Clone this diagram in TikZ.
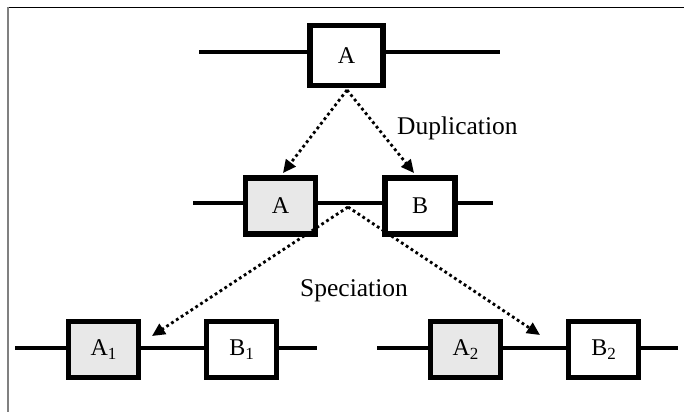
\documentclass[tikz,border=0pt]{standalone}
\usepackage{fontspec}
\setmainfont{Liberation Serif}
\usetikzlibrary{arrows.meta}
\newcommand{\sbs}[1]{\raisebox{-0.35ex}{\fontsize{17}{17}\selectfont #1}}
\begin{document}
\begin{tikzpicture}[x=1pt,y=-1pt,
  gene/.style={draw=black,line width=5.5pt,fill=white,minimum width=70pt,minimum height=56pt,inner sep=0pt,font=\fontsize{24}{26}\selectfont},
  shaded/.style={gene,fill=black!9},
  chrom/.style={line width=4pt},
  evo/.style={line width=2.8pt,dash pattern=on 2.8pt off 3pt,-{Triangle[length=13pt,width=12pt]}},
  lbl/.style={font=\fontsize{25.5}{28}\selectfont,inner sep=0pt}]
\useasboundingbox (0,0) rectangle (684,412);
% frame
\draw[line width=1.4pt] (7,7.5) -- (684,7.5);
\draw[line width=2pt,gray] (7.5,7) -- (7.5,412);
% top
\coordinate (t1) at (199,52);
\coordinate (t2) at (500,52);
\node[gene,minimum width=73pt,minimum height=60pt] (A) at (346.5,55.5) {A};
\draw[chrom] (t1) -- (t1 -| A.west);
\draw[chrom] (t2 -| A.east) -- (t2);
% middle
\coordinate (m1) at (193,203);
\coordinate (m2) at (493,203);
\node[shaded] (MA) at (280.5,206) {A};
\node[gene] (MB) at (420,206) {B};
\draw[chrom] (m1) -- (m1 -| MA.west);
\draw[chrom] (m1 -| MA.east) -- (m1 -| MB.west);
\draw[chrom] (m2 -| MB.east) -- (m2);
% bottom left
\coordinate (l1) at (15,348);
\coordinate (l2) at (317,348);
\node[shaded] (A1) at (103.5,349.5) {A\sbs{1}};
\node[gene] (B1) at (241.5,349.5) {B\sbs{1}};
\draw[chrom] (l1) -- (l1 -| A1.west);
\draw[chrom] (l1 -| A1.east) -- (l1 -| B1.west);
\draw[chrom] (l2 -| B1.east) -- (l2);
% bottom right
\coordinate (r1) at (377,348);
\coordinate (r2) at (678,348);
\node[shaded] (A2) at (465.5,349.5) {A\sbs{2}};
\node[gene] (B2) at (603.5,349.5) {B\sbs{2}};
\draw[chrom] (r1) -- (r1 -| A2.west);
\draw[chrom] (r1 -| A2.east) -- (r1 -| B2.west);
\draw[chrom] (r2 -| B2.east) -- (r2);
% arrows
\coordinate (src) at (347,90);
\coordinate (tipA) at (283,173);
\coordinate (tipB) at (414,173);
\draw[evo] (src) -- (tipA);
\draw[evo] (src) -- (tipB);
\coordinate (spec) at (348,207);
\coordinate (tip1) at (152,336);
\coordinate (tip2) at (540,335);
\draw[evo] (spec) -- (tip1);
\draw[evo] (spec) -- (tip2);
% labels
\node[lbl,anchor=west] (dup) at (397,128) {Duplication};
\node[lbl,anchor=west] (spc) at (300,291) {Speciation};
\end{tikzpicture}
\end{document}
